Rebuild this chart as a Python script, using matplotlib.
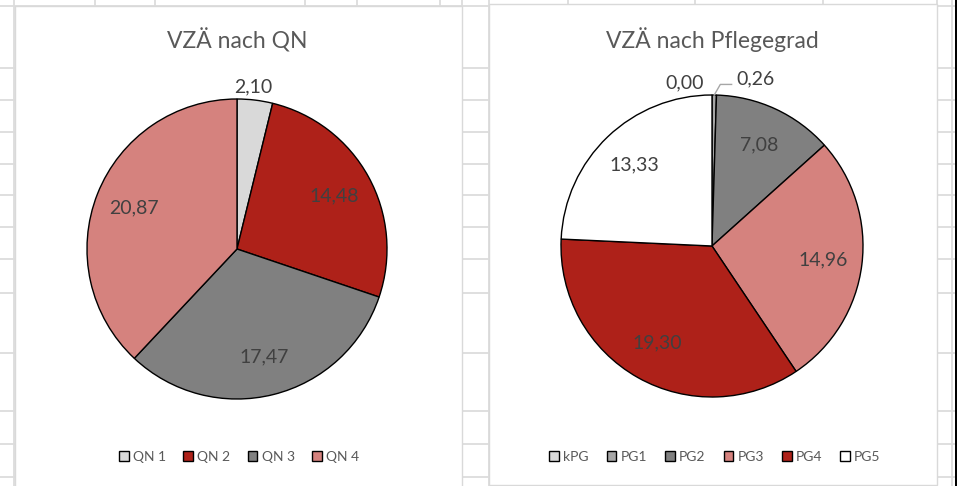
import numpy as np
import matplotlib.pyplot as plt
from matplotlib.lines import Line2D
from matplotlib.patches import Rectangle

plt.rcParams['font.family'] = ['Lato', 'DejaVu Sans']

qn_labels = ['QN 1', 'QN 2', 'QN 3', 'QN 4']
qn_values = [2.10, 14.48, 17.47, 20.87]
qn_colors = ['#D9D9D9', '#AE2119', '#808080', '#D5827E']

pg_labels = ['kPG', 'PG1', 'PG2', 'PG3', 'PG4', 'PG5']
pg_values = [0.00, 0.26, 7.08, 14.96, 19.30, 13.33]
pg_colors = ['#D9D9D9', '#A6A6A6', '#808080', '#D5827E', '#AE2119', '#FFFFFF']

W, H = 957, 486
fig = plt.figure(figsize=(W / 100, H / 100), dpi=100)
fig.patch.set_facecolor('white')


def fx(x):
    return x / W


def fy(y):
    return 1 - y / H


def fmt(v):
    return f'{v:.2f}'.replace('.', ',')


# excel sheet grid behind the two chart objects
grid_c = '#DCDCDC'
rows = [68, 100, 132, 164, 195, 227, 259, 293, 353, 411, 444, 477]
for y in rows:
    for x0, x1 in [(0, 14), (462, 489), (937, 957)]:
        fig.add_artist(Line2D([fx(x0), fx(x1)], [fy(y), fy(y)], color=grid_c, lw=1.3, zorder=-3))
for x in [14, 462, 489, 937, 952]:
    fig.add_artist(Line2D([fx(x), fx(x)], [0, 1], color=grid_c, lw=1.3, zorder=-3))
for x in [95, 155, 305, 357, 440, 568, 695, 823]:
    fig.add_artist(Line2D([fx(x), fx(x)], [fy(0), fy(6)], color=grid_c, lw=1.3, zorder=-3))
fig.add_artist(Line2D([0, 1], [fy(6), fy(6)], color=grid_c, lw=1.3, zorder=-3))

# chart areas
fig.add_artist(Rectangle((fx(15), fy(492)), fx(462) - fx(15), fy(6) - fy(492),
                         facecolor='white', edgecolor='#D9D9D9', lw=1.0, zorder=-2))
fig.add_artist(Rectangle((fx(489), fy(485)), fx(937) - fx(489), fy(4) - fy(485),
                         facecolor='white', edgecolor='#D9D9D9', lw=1.0, zorder=-2))
fig.add_artist(Rectangle((fx(955), 0), fx(957) - fx(955), 1, facecolor='black', lw=0, zorder=-1))


def draw_pie(cx, cy, r, values, colors, labels, outside, title, leg_x, ncol, colsp):
    ax = fig.add_axes([fx(cx - r), fy(cy + r), 2 * r / W, 2 * r / H])
    wedges, _ = ax.pie(values, colors=colors, startangle=90, counterclock=False,
                       wedgeprops=dict(edgecolor='black', linewidth=1.0))
    ax.set_xlim(-1, 1)
    ax.set_ylim(-1, 1)
    ax.axis('off')
    for w, v in zip(wedges, values):
        if w.theta2 - w.theta1 < 20:
            continue
        mid = np.deg2rad((w.theta1 + w.theta2) / 2)
        ax.text(0.74 * np.cos(mid), 0.74 * np.sin(mid), fmt(v), ha='center', va='center',
                fontsize=14, color='#404040')
    for i, (px, py) in outside.items():
        ax.text(px, py, fmt(values[i]), ha='center', va='center', fontsize=14,
                color='#404040', clip_on=False)
    fig.text(fx(cx), fy(40), title, ha='center', va='center', fontsize=16.5, color='#595959')
    fig.legend(wedges, labels, loc='center', bbox_to_anchor=(fx(leg_x), fy(457)), ncol=ncol,
               frameon=False, handlelength=0.7, handleheight=0.7, handletextpad=0.3,
               columnspacing=colsp, fontsize=10, labelcolor='#595959')
    return ax, wedges


ax1, w1 = draw_pie(237, 249, 150, qn_values, qn_colors, qn_labels,
                   {0: (0.11, 1.08)}, 'VZÄ nach QN', 239, 4, 1.25)
ax2, w2 = draw_pie(712, 246, 151, pg_values, pg_colors, pg_labels,
                   {0: (-0.18, 1.08), 1: (0.29, 1.11)}, 'VZÄ nach Pflegegrad', 715, 6, 1.3)

# leader line for the small PG1 slice
mid = np.deg2rad((w2[1].theta1 + w2[1].theta2) / 2)
ax2.plot([np.cos(mid), 0.055, 0.13], [np.sin(mid), 1.07, 1.07], color='#A6A6A6', lw=1.0,
         clip_on=False)

fig.savefig('out.png', dpi=100)
